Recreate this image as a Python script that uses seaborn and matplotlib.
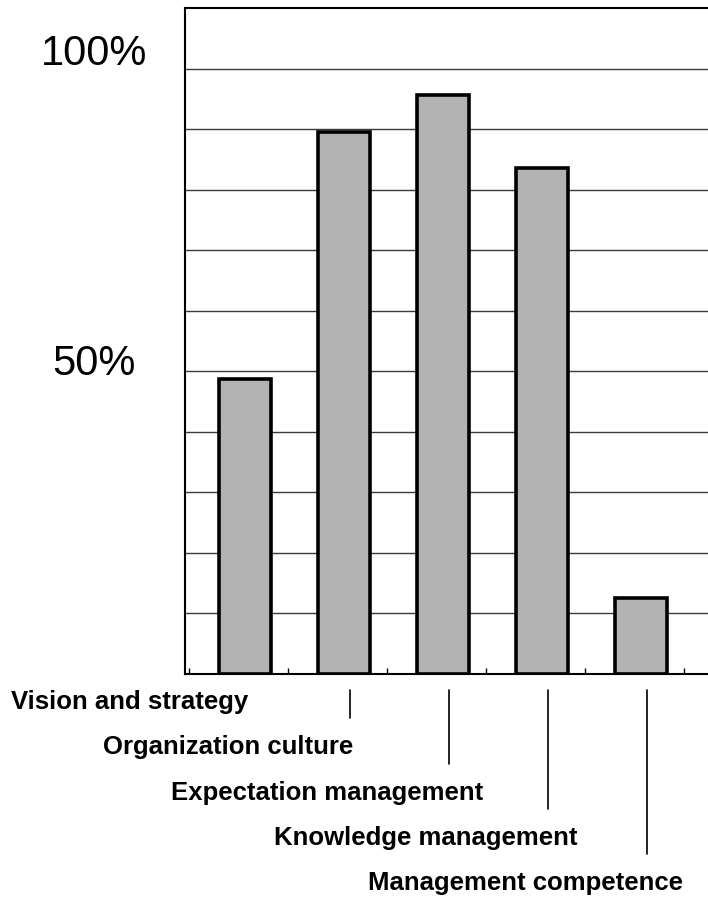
import matplotlib
matplotlib.use("Agg")
import matplotlib.pyplot as plt
import matplotlib.transforms as mtransforms
from matplotlib.lines import Line2D
import numpy as np
import pandas as pd
import seaborn as sns

# data
categories = [
    "Vision and strategy",
    "Organization culture",
    "Expectation management",
    "Knowledge management",
    "Management competence",
]
shares = [48.8, 89.6, 95.7, 83.6, 12.6]
y_labels = {50: "50%", 100: "100%"}

df = pd.DataFrame({"category": categories, "share": shares})

sns.set_style("white")
plt.rcParams["font.family"] = ["Liberation Sans", "DejaVu Sans"]
plt.rcParams["text.color"] = "black"

fig = plt.figure(figsize=(7.08, 8.98), dpi=100)
ax = fig.add_axes([185 / 708, 1 - 674 / 898, 523 / 708, 666 / 898])

# grid lines every 10 %
for v in range(10, 101, 10):
    ax.axhline(v, color="#3a3a3a", lw=1.0, zorder=0)

sns.barplot(
    data=df, x="category", y="share", ax=ax,
    color="#b3b3b3", edgecolor="black", linewidth=2.6,
    width=0.525, saturation=1, zorder=2,
)

ax.set_ylim(0, 110)
ax.set_xlim(-0.606, 4.677)
ax.set_xlabel("")
ax.set_ylabel("")
ax.set_xticks([])
ax.set_yticks([])
ax.set_xticks(np.arange(6) - 0.57, minor=True)
ax.tick_params(axis="x", which="minor", bottom=True, direction="in",
               length=4, width=1, color="black")

for side in ["left", "top", "bottom"]:
    ax.spines[side].set_color("black")
    ax.spines[side].set_linewidth(1.5)
ax.spines["right"].set_visible(False)

# y labels, centred left of the axis
ylab_tr = mtransforms.blended_transform_factory(ax.transAxes, ax.transData)
for v, txt in y_labels.items():
    ax.text(-0.174, v + 1.2 * (v / 50), txt, transform=ylab_tr, ha="center", va="center",
            fontsize=30, color="black")

# staggered category labels with leader lines
lab_tr = mtransforms.blended_transform_factory(ax.transData, fig.transFigure)
row_y = [702, 747, 793, 838, 883]
for i, name in enumerate(categories):
    yf = 1 - row_y[i] / 898
    fig.text(i - 1.17, yf, name, transform=lab_tr, ha="center", va="center",
             fontsize=18.5, fontweight="bold", color="black")
    if i > 0:
        fig.add_artist(Line2D([i + 0.06, i + 0.06],
                              [1 - 690 / 898, 1 - (row_y[i] - 29) / 898],
                              transform=lab_tr, color="black", lw=1.2))

fig.savefig("out.png", dpi=100)
